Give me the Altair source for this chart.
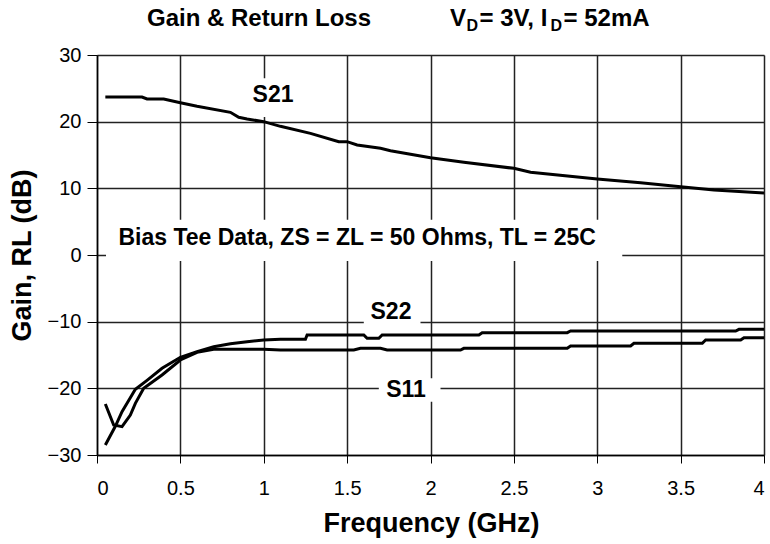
import altair as alt
import pandas as pd

# ---------------- data ----------------
s21_f = [0.05, 0.27, 0.30, 0.40, 0.50, 0.60, 0.80, 0.85, 0.90, 1.00, 1.10, 1.28, 1.45, 1.50, 1.56, 1.70, 1.76, 2.00, 2.20, 2.50, 2.60, 3.00, 3.26, 3.50, 3.70, 4.00]
s21_db = [23.7, 23.7, 23.4, 23.4, 22.85, 22.3, 21.4, 20.65, 20.4, 20.0, 19.3, 18.25, 17.0, 17.0, 16.5, 16.0, 15.65, 14.6, 13.9, 13.0, 12.4, 11.4, 10.85, 10.25, 9.75, 9.3]

s22_f = [0.05, 0.11, 0.15, 0.23, 0.30, 0.39, 0.50, 0.60, 0.70, 0.80, 0.90, 1.00, 1.10, 1.25, 1.26, 1.60, 1.62, 1.69, 1.71, 2.29, 2.31, 2.82, 2.84, 3.83, 3.85, 4.00]
s22_db = [-28.5, -25.7, -23.5, -20.15, -18.8, -17.0, -15.35, -14.5, -13.75, -13.3, -13.0, -12.75, -12.65, -12.65, -12.0, -12.0, -12.5, -12.5, -12.0, -12.0, -11.65, -11.65, -11.4, -11.4, -11.15, -11.15]

s11_f = [0.05, 0.10, 0.15, 0.20, 0.23, 0.28, 0.39, 0.50, 0.60, 0.70, 1.00, 1.10, 1.54, 1.58, 1.70, 1.74, 2.18, 2.20, 2.82, 2.84, 3.20, 3.22, 3.63, 3.65, 3.86, 3.88, 4.00]
s11_db = [-22.35, -25.5, -25.75, -24.0, -22.25, -20.0, -18.0, -15.75, -14.6, -14.15, -14.15, -14.25, -14.25, -14.0, -14.0, -14.25, -14.25, -14.0, -14.0, -13.65, -13.65, -13.25, -13.25, -12.75, -12.75, -12.4, -12.4]

x_ticks = [0, 0.5, 1, 1.5, 2, 2.5, 3, 3.5, 4]
y_ticks = [-30, -20, -10, 0, 10, 20, 30]

# annotation texts and their anchor (data units)
ann_text = ["S21", "Bias Tee Data, ZS = ZL = 50 Ohms, TL = 25C", "S22", "S11"]
ann_f = [1.056, 1.56, 1.763, 1.853]
ann_db = [24.0, 2.55, -8.5, -20.25]
# white boxes behind the labels (data units)
box_f1 = [0.93, 0.054, 1.60, 1.69]
box_f2 = [1.17, 3.15, 1.94, 2.06]
box_db1 = [20.7, -0.9, -10.8, -18.5]
box_db2 = [26.5, 5.3, -7.0, -22.0]

# title pieces (text with subscripts)
title_text = ["Gain & Return Loss", "V", "D", "= 3V, I", "D", "= 52mA"]
title_sub = [False, False, True, False, True, False]

FONT = "Liberation Sans, Arial, sans-serif"

rows = []
for name, fs, ds in (("S21", s21_f, s21_db), ("S22", s22_f, s22_db), ("S11", s11_f, s11_db)):
    for i, (f, d) in enumerate(zip(fs, ds)):
        rows.append({"series": name, "freq": f, "db": d, "order": i})
curves = pd.DataFrame(rows)

ann = pd.DataFrame({"text": ann_text, "freq": ann_f, "db": ann_db})
boxes = pd.DataFrame({"f1": box_f1, "f2": box_f2, "d1": box_db1, "d2": box_db2})

xs = alt.Scale(domain=[0, 4], nice=False)
ys = alt.Scale(domain=[-30, 30], nice=False)

x_axis = alt.Axis(values=x_ticks, title="Frequency (GHz)", grid=True, format="~g",
                  labelFontSize=20, labelFont=FONT, labelColor="black", labelPadding=15,
                  tickSize=8, tickColor="black", domainColor="black", domainWidth=1.5,
                  gridColor="#222222", gridWidth=1.5,
                  titleFont=FONT, titleFontSize=27, titleFontWeight="bold", titleColor="black",
                  titleX=334, titleY=68, titleAlign="center", titleBaseline="middle")
y_axis = alt.Axis(values=y_ticks, title="Gain, RL (dB)", grid=True,
                  labelFontSize=20, labelFont=FONT, labelColor="black", labelPadding=6,
                  tickSize=10, tickColor="black", domainColor="black", domainWidth=1.5,
                  gridColor="#222222", gridWidth=1.5,
                  titleFont=FONT, titleFontSize=27, titleFontWeight="bold", titleColor="black",
                  titleX=-75, titleY=200, titleAngle=270, titleAlign="center", titleBaseline="middle")

lines = alt.Chart(curves).mark_line(color="black", strokeWidth=3, interpolate="linear").encode(
    x=alt.X("freq:Q", scale=xs, axis=x_axis),
    y=alt.Y("db:Q", scale=ys, axis=y_axis),
    detail="series:N",
    order="order:Q",
)

rects = alt.Chart(boxes).mark_rect(color="white").encode(
    x=alt.X("f1:Q", scale=xs), x2="f2:Q",
    y=alt.Y("d1:Q", scale=ys), y2="d2:Q",
)

labels = alt.Chart(ann).mark_text(font=FONT, fontSize=23, fontWeight="bold", color="black",
                                  align="center", baseline="middle").encode(
    x=alt.X("freq:Q", scale=xs), y=alt.Y("db:Q", scale=ys), text="text:N")

# title with subscripts, laid out as separate text marks
title_px = [50, 353, 369.5, 382.5, 453.5, 466.5]
layers = [rects, lines, labels]
for t, sub, px in zip(title_text, title_sub, title_px):
    layers.append(
        alt.Chart(pd.DataFrame({"t": [t]})).mark_text(
            font=FONT, fontWeight="bold", color="black", align="left", baseline="alphabetic",
            fontSize=16 if sub else 24,
        ).encode(x=alt.value(px), y=alt.value(-24 if sub else -29), text="t:N")
    )

chart = alt.layer(*layers).properties(
    width=667, height=400,
    autosize=alt.AutoSizeParams(type="none"),
    padding={"left": 97, "top": 55, "right": 6, "bottom": 89},
).configure_view(stroke=None).configure(background="white")

chart.save("out.html", embed_options={"renderer": "svg", "actions": False})
